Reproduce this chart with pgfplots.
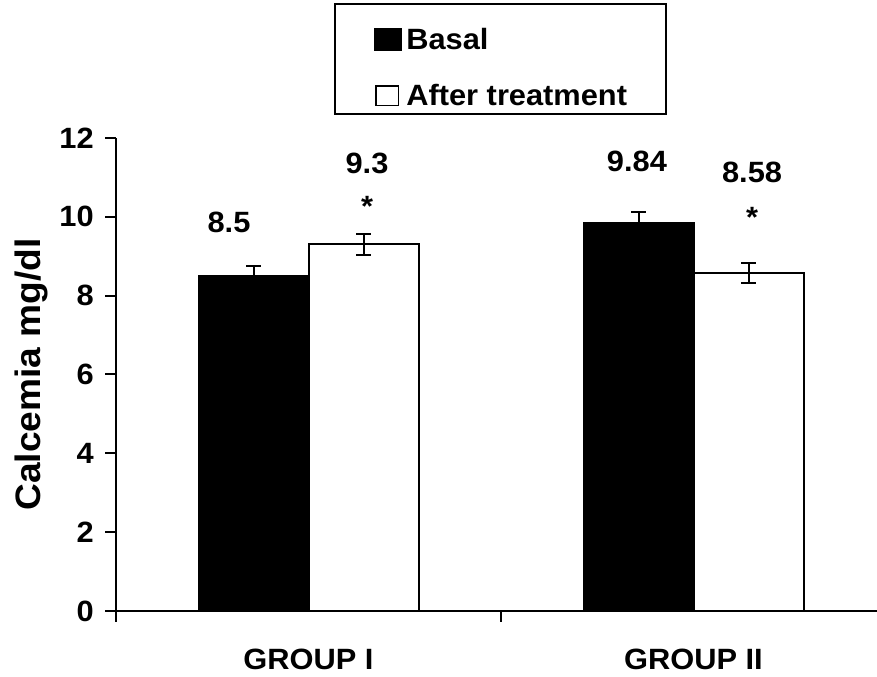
\documentclass[border=0pt]{standalone}
\usepackage{pgfplots}
\pgfplotsset{compat=1.18}
\usepackage{fontspec}
\setmainfont{Liberation Sans}[FakeStretch=1.05]
\newcommand{\bfx}{\fontsize{22}{26}\selectfont\bfseries}
\begin{document}
\begin{tikzpicture}
\begin{axis}[
  scale only axis, width=570.75pt, height=354.75pt,
  xmin=-0.5, xmax=1.4766, ymin=0, ymax=12,
  clip=false,
  axis x line*=bottom, axis y line*=left,
  axis line style={-, line width=1.5pt, black},
  tick align=outside, major tick length=8pt,
  tick style={line width=1.5pt, black},
  ytick={0,2,4,6,8,10,12},
  xtick={-0.5,0.5,1.5}, xticklabels={},
  extra x ticks={0,1}, extra x tick labels={GROUP I, GROUP II},
  extra x tick style={major tick length=0pt, xticklabel style={anchor=base, inner sep=0pt, yshift=-44.25pt}},
  /pgf/number format/assume math mode=true,
  ticklabel style={font=\bfx},
  yticklabel style={anchor=east, inner sep=0pt, xshift=-8.5pt},
  ylabel={Calcemia mg/dl},
  every axis y label/.style={at={([xshift=-63.5pt]axis description cs:0,0.5)}, rotate=90, anchor=center, font=\fontsize{26.5}{30}\selectfont\bfseries},
  ybar=0pt, bar width=82.5pt,
  legend style={at={(rel axis cs:0.2865,1.2854)}, anchor=north west, draw=black, line width=1.5pt,
    inner xsep=29pt, inner ysep=6pt, row sep=12.75pt, column sep=3pt,
    font=\bfx, nodes={inner sep=0pt, text height=28.5pt, text depth=0pt, anchor=base west}},
  legend cell align=left,
]
\addplot[fill=black, draw=black, line width=1.5pt,
  legend image code/.code={\fill[fill=black] (0pt,0pt) rectangle (20pt,16pt);},
  error bars/.cd, y dir=both, y explicit, error mark=|,
  error bar style={line width=1.5pt, black},
  error mark options={draw=black, line width=1.5pt, mark size=5.6pt}]
  coordinates {(0,8.5) +- (0,0.25) (1,9.84) +- (0,0.28)};
\addlegendentry{Basal}
\addplot[fill=white, draw=black, line width=1.5pt,
  legend image code/.code={\draw[draw=black, fill=white, line width=1pt] (1pt,0.5pt) rectangle (18pt,15pt);},
  error bars/.cd, y dir=both, y explicit, error mark=|,
  error bar style={line width=1.5pt, black},
  error mark options={draw=black, line width=1.5pt, mark size=5.6pt}]
  coordinates {(0,9.3) +- (0,0.27) (1,8.58) +- (0,0.26)};
\addlegendentry{After treatment}
\node[font=\bfx, anchor=base] at (axis cs:-0.2065,9.59) {8.5};
\node[font=\bfx, anchor=base] at (axis cs:0.152,11.11) {9.3};
\node[font=\bfx, anchor=base] at (axis cs:0.152,10.0) {*};
\node[font=\bfx, anchor=base] at (axis cs:0.853,11.14) {9.84};
\node[font=\bfx, anchor=base] at (axis cs:1.152,10.86) {8.58};
\node[font=\bfx, anchor=base] at (axis cs:1.152,9.72) {*};
\coordinate (sw) at (rel axis cs:0,0);
\coordinate (ne) at (rel axis cs:1,1);
\end{axis}
\pgfresetboundingbox
\path[use as bounding box] ([shift={(-87pt,-49.5pt)}]sw) rectangle ([shift={(0pt,103.5pt)}]ne);
\end{tikzpicture}
\end{document}
